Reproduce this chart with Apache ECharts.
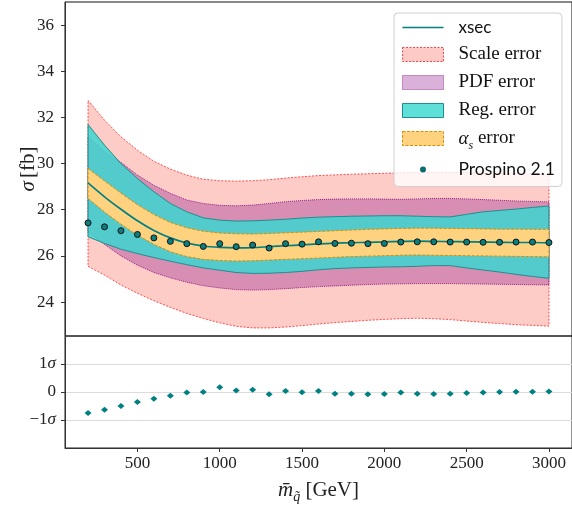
<!DOCTYPE html>
<html><head><meta charset="utf-8">
<script src="https://cdn.jsdelivr.net/npm/echarts@6/dist/echarts.min.js"></script>
<style>html,body{margin:0;padding:0;background:#fff}#c{width:572px;height:509px}</style>
</head><body><div id="c"></div>
<script>
// ---- data ----
const massX = [200,300,400,500,600,700,800,900,1000,1100,1200,1300,1400,1500,1600,1700,1800,1900,2000,2100,2200,2300,2400,2500,2600,2700,2800,2900,3000];
const xsec = [29.16,28.56,28.02,27.52,27.10,26.78,26.56,26.43,26.37,26.35,26.36,26.40,26.44,26.48,26.52,26.55,26.57,26.59,26.61,26.63,26.64,26.63,26.62,26.61,26.60,26.59,26.58,26.58,26.57];
const scaleHi = [32.74,31.88,31.16,30.58,30.10,29.76,29.50,29.32,29.26,29.24,29.26,29.30,29.37,29.43,29.48,29.51,29.54,29.56,29.58,29.60,29.62,29.63,29.62,29.60,29.59,29.57,29.56,29.55,29.54];
const scaleLo = [25.55,25.17,24.74,24.38,24.06,23.77,23.51,23.29,23.10,22.95,22.88,22.88,22.92,22.98,23.05,23.11,23.16,23.21,23.25,23.28,23.30,23.28,23.24,23.18,23.12,23.07,23.02,22.99,22.96];
const pdfHi = [31.16,30.51,30.05,29.50,29.06,28.71,28.42,28.27,28.19,28.17,28.20,28.27,28.35,28.40,28.44,28.46,28.47,28.47,28.46,28.45,28.47,28.49,28.49,28.47,28.44,28.41,28.38,28.36,28.34];
const pdfLo = [27.05,26.50,26.00,25.60,25.28,25.05,24.86,24.71,24.61,24.54,24.52,24.54,24.58,24.63,24.67,24.70,24.73,24.76,24.78,24.79,24.80,24.80,24.80,24.79,24.78,24.77,24.76,24.75,24.74];
const regHi = [31.69,30.80,30.00,29.35,28.78,28.27,27.91,27.65,27.55,27.51,27.52,27.55,27.59,27.64,27.68,27.70,27.72,27.73,27.74,27.74,27.72,27.70,27.69,27.80,27.91,27.97,28.03,28.10,28.16];
const regLo = [26.83,26.54,26.29,26.10,25.93,25.77,25.62,25.48,25.38,25.28,25.24,25.25,25.28,25.33,25.40,25.45,25.48,25.50,25.52,25.53,25.55,25.58,25.58,25.48,25.39,25.30,25.20,25.11,25.03];
const asHi = [29.79,29.25,28.72,28.22,27.79,27.45,27.22,27.07,26.99,26.96,26.95,26.97,27.00,27.03,27.06,27.09,27.12,27.15,27.17,27.19,27.20,27.20,27.19,27.18,27.17,27.16,27.16,27.15,27.15];
const asLo = [28.49,27.90,27.37,26.90,26.50,26.18,25.97,25.85,25.80,25.78,25.79,25.82,25.85,25.88,25.91,25.94,25.97,25.99,26.01,26.03,26.04,26.03,26.02,26.01,26.00,25.99,25.98,25.97,25.96];
const prospino = [27.43,27.26,27.09,26.93,26.78,26.63,26.53,26.41,26.53,26.40,26.47,26.34,26.53,26.51,26.61,26.54,26.55,26.53,26.54,26.60,26.61,26.61,26.60,26.60,26.59,26.59,26.60,26.60,26.58];
const ratio = [-0.75,-0.63,-0.50,-0.36,-0.24,-0.13,-0.02,0.00,0.17,0.05,0.08,-0.08,0.04,-0.01,0.04,-0.06,-0.06,-0.08,-0.07,-0.02,-0.06,-0.07,-0.06,-0.04,-0.02,0.00,0.01,0.01,0.02];
const yTicksTop = [24,26,28,30,32,34,36];
const xTicks = [500,1000,1500,2000,2500,3000];
const ratioTicks = [-1,0,1];

// ---- chart ----
const serif = 'Liberation Serif';
function band(name, lo, hi, fill, stroke, dash, z, legendColor) {
  return {
    type: 'custom', name: name, xAxisIndex: 0, yAxisIndex: 0, z: z, clip: true,
    itemStyle: { color: legendColor },
    data: massX.map((x, i) => [x, lo[i], hi[i]]),
    encode: { x: 0, y: [1, 2] },
    renderItem: function (params, api) {
      if (params.dataIndex !== 0) return null;
      const pts = [];
      for (let i = 0; i < massX.length; i++) pts.push(api.coord([massX[i], hi[i]]));
      for (let i = massX.length - 1; i >= 0; i--) pts.push(api.coord([massX[i], lo[i]]));
      return { type: 'polygon', shape: { points: pts },
        style: { fill: fill, stroke: stroke, lineWidth: 1, lineDash: dash } };
    }
  };
}

const chart = echarts.init(document.getElementById('c'), null, { renderer: 'canvas' });
chart.setOption({
  animation: false,
  backgroundColor: '#fff',
  grid: [
    { left: 65, top: 2, width: 507, height: 334, show: true, borderColor: '#111', borderWidth: 1, backgroundColor: 'transparent', outerBoundsMode: 'none', containLabel: false },
    { left: 65, top: 336, width: 507, height: 112, show: true, borderColor: '#222', borderWidth: 1, backgroundColor: 'transparent', outerBoundsMode: 'none', containLabel: false }
  ],
  xAxis: [
    { gridIndex: 0, type: 'value', min: 60, max: 3140,
      axisLine: { show: false }, axisTick: { show: false }, axisLabel: { show: false }, splitLine: { show: false } },
    { gridIndex: 1, type: 'value', min: 60, max: 3140,
      axisLine: { show: true, onZero: false, lineStyle: { color: '#333', width: 1 } },
      axisTick: { show: true, length: 4, customValues: xTicks, lineStyle: { color: '#333' } },
      axisLabel: { customValues: xTicks, fontFamily: serif, fontSize: 17, color: '#222', margin: 7,
        formatter: function (v) { return String(v); } },
      splitLine: { show: false },
      name: '{m|m\u0304}{q|q\u0303}{t| [GeV]}', nameLocation: 'middle', nameGap: 28, nameMoveOverlap: false,
      nameTextStyle: { rich: {
        m: { fontFamily: serif, fontStyle: 'italic', fontSize: 21, lineHeight: 28, verticalAlign: 'middle', color: '#222' },
        q: { fontFamily: serif, fontStyle: 'italic', fontSize: 14, lineHeight: 28, verticalAlign: 'bottom', color: '#222' },
        t: { fontFamily: serif, fontSize: 21, lineHeight: 28, verticalAlign: 'middle', color: '#222' } } } }
  ],
  yAxis: [
    { gridIndex: 0, type: 'value', min: 22.53, max: 37,
      axisLine: { show: true, lineStyle: { color: '#333' } },
      axisTick: { show: true, length: 4, customValues: yTicksTop, lineStyle: { color: '#333' } },
      axisLabel: { customValues: yTicksTop, fontFamily: serif, fontSize: 17, color: '#222', margin: 11 },
      splitLine: { show: false },
      name: '{s|σ} {t|[fb]}', nameLocation: 'middle', nameGap: 26, nameRotate: 90, nameMoveOverlap: false,
      nameTextStyle: { rich: {
        s: { fontFamily: serif, fontStyle: 'italic', fontSize: 21, color: '#222' },
        t: { fontFamily: serif, fontSize: 21, color: '#222' } } } },
    { gridIndex: 1, type: 'value', min: -2, max: 2, interval: 1,
      axisLine: { show: true, lineStyle: { color: '#333' } },
      axisTick: { show: true, length: 4, customValues: ratioTicks, lineStyle: { color: '#333' } },
      axisLabel: { customValues: ratioTicks, margin: 9,
        formatter: function (v) { return v === 0 ? '{n|0}' : (v > 0 ? '{n|1}{s|σ}' : '{n|\u22121}{s|σ}'); },
        rich: { n: { fontFamily: serif, fontSize: 17, color: '#222' },
                s: { fontFamily: serif, fontStyle: 'italic', fontSize: 17, color: '#222' } } },
      splitLine: { show: true, lineStyle: { color: '#dcdcdc', width: 1 } } }
  ],
  legend: {
    left: 394, top: 13, orient: 'vertical', selectedMode: false,
    padding: [6, 7, 8, 8], itemWidth: 41, itemHeight: 14, itemGap: 9,
    backgroundColor: 'rgba(255,255,255,0.8)', borderColor: '#d0d0d0', borderWidth: 1, borderRadius: 4,
    textStyle: { fontFamily: serif, fontSize: 19, color: '#111', lineHeight: 14, padding: [0, 0, 0, 10],
      rich: { a: { fontFamily: serif, fontStyle: 'italic', fontSize: 19, lineHeight: 14, color: '#111' },
              s: { fontFamily: serif, fontStyle: 'italic', fontSize: 12, lineHeight: 14, verticalAlign: 'bottom', padding: [0, 0, -6, 0], color: '#111' },
              t: { fontFamily: serif, fontSize: 19, lineHeight: 14, color: '#111' } } },
    formatter: function (n) { return n === 'αs error' ? '{a|α}{s|s}{t| error}' : n; },
    data: [
      { name: 'xsec', icon: 'path://M0,0L41,0L41,1.6L0,1.6Z', itemStyle: { color: '#008080', borderWidth: 0 },
        textStyle: { fontFamily: 'Lato', fontSize: 17 } },
      { name: 'Scale error', icon: 'rect', itemStyle: { color: '#fdcac5', borderColor: 'rgba(255,40,40,0.85)', borderWidth: 1, borderType: [2, 1.5] } },
      { name: 'PDF error', icon: 'rect', itemStyle: { color: '#d9b1d9', borderColor: '#9a3d9a', borderWidth: 1, borderType: [1, 1] } },
      { name: 'Reg. error', icon: 'rect', itemStyle: { color: '#5ee0d8', borderColor: '#1f8f8f', borderWidth: 1 } },
      { name: 'αs error', icon: 'rect', itemStyle: { color: '#ffd280', borderColor: '#d98e00', borderWidth: 1, borderType: [3, 1.5] } },
      { name: 'Prospino 2.1', icon: 'path://M0,0L0.01,0L0,0.01Z M17.5,7A3,3 0 1,0 23.5,7A3,3 0 1,0 17.5,7Z M41,14L40.99,14L41,13.99Z',
        itemStyle: { color: '#0b6e6e', borderWidth: 0 }, textStyle: { fontFamily: 'Lato', fontSize: 17.5 } }
    ]
  },
  series: [
    band('Scale error', scaleLo, scaleHi, 'rgba(250,128,114,0.4)', 'rgba(255,40,40,0.8)', [2, 1.5], 1, '#fdcac5'),
    band('PDF error', pdfLo, pdfHi, 'rgba(128,0,128,0.3)', 'rgba(128,0,128,0.8)', [1, 1], 2, '#d9b1d9'),
    band('Reg. error', regLo, regHi, 'rgba(60,213,207,0.85)', '#1f8f8f', null, 3, '#5ee0d8'),
    band('αs error', asLo, asHi, '#ffd280', '#d98e00', [3, 1.5], 4, '#ffd280'),
    { type: 'line', name: 'xsec', xAxisIndex: 0, yAxisIndex: 0, z: 5, smooth: 0.3, symbol: 'none',
      lineStyle: { color: '#008080', width: 1.7 }, itemStyle: { color: '#008080' },
      data: massX.map((x, i) => [x, xsec[i]]) },
    { type: 'scatter', name: 'Prospino 2.1', xAxisIndex: 0, yAxisIndex: 0, z: 6, symbol: 'circle', symbolSize: 6,
      itemStyle: { color: '#0b7f7f', borderColor: '#111', borderWidth: 1, opacity: 1 },
      data: massX.map((x, i) => [x, prospino[i]]) },
    { type: 'scatter', name: 'ratio', xAxisIndex: 1, yAxisIndex: 1, z: 6, symbol: 'diamond', symbolSize: [7, 6],
      itemStyle: { color: '#008080', opacity: 1 },
      data: massX.map((x, i) => [x, ratio[i]]) }
  ]
});
</script>
</body></html>
